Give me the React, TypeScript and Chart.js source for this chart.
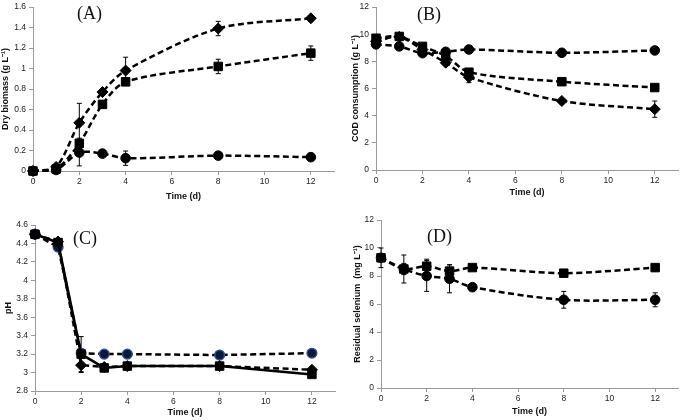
import React, { useEffect, useRef } from 'react';
import { Chart, registerables } from 'chart.js';

Chart.register(...registerables);

// Sampling days
const days = [0, 1, 2, 3, 4, 8, 12];
const xTicks = [0, 2, 4, 6, 8, 10, 12];

// (A) Dry biomass (g L-1)
const biomassDiamond = [0, 0.04, 0.47, 0.77, 0.98, 1.39, 1.49];
const biomassDiamondErr = [0, 0, 0.19, 0, 0.13, 0.07, 0.02];
const biomassSquare = [0, 0.02, 0.27, 0.65, 0.87, 1.02, 1.15];
const biomassSquareErr = [0, 0, 0.05, 0.03, 0.02, 0.07, 0.07];
const biomassCircle = [0, 0.01, 0.18, 0.17, 0.125, 0.15, 0.135];
const biomassCircleErr = [0, 0, 0.13, 0, 0.07, 0, 0];

// (B) COD consumption (g L-1)
const codCircle = [9.25, 9.1, 8.6, 8.7, 8.87, 8.63, 8.8];
const codCircleErr = [0, 0, 0, 0, 0, 0, 0];
const codSquare = [9.7, 9.83, 9.1, 8.4, 7.2, 6.5, 6.07];
const codSquareErr = [0, 0, 0, 0, 0.2, 0, 0];
const codDiamond = [9.47, 9.8, 8.87, 7.9, 6.83, 5.08, 4.48];
const codDiamondErr = [0, 0, 0, 0, 0.4, 0, 0.6];

// (C) pH
const phCircle = [4.5, 4.36, 3.21, 3.2, 3.2, 3.19, 3.21];
const phCircleErr = [0, 0, 0, 0, 0, 0, 0];
const phSquare = [4.5, 4.41, 3.2, 3.05, 3.07, 3.07, 2.98];
const phSquareErr = [0, 0.04, 0.19, 0, 0, 0, 0];
const phDiamond = [4.5, 4.42, 3.08, 3.06, 3.07, 3.07, 3.03];
const phDiamondErr = [0, 0, 0.08, 0, 0, 0, 0];

// (D) Residual selenium (mg L-1)
const seSquare = [9.3, 8.5, 8.7, 8.35, 8.6, 8.2, 8.6];
const seSquareErr = [0.7, 1.0, 0.5, 0.45, 0, 0, 0];
const seCircle = [9.3, 8.5, 8.0, 7.8, 7.2, 6.3, 6.3];
const seCircleErr = [0, 0.4, 1.1, 1.0, 0.25, 0.6, 0.5];

const SANS = "Arial, 'Liberation Sans', Helvetica, sans-serif";
const SERIF = "'Times New Roman', 'Liberation Serif', serif";

const errorBars = {
  id: 'errorBars',
  beforeDatasetsDraw(chart: any) {
    const { ctx } = chart;
    const ys = chart.scales.y;
    chart.data.datasets.forEach((ds: any, i: number) => {
      if (!ds.errors) return;
      const meta = chart.getDatasetMeta(i);
      ctx.save();
      ctx.strokeStyle = '#000';
      ctx.lineWidth = 1;
      meta.data.forEach((pt: any, j: number) => {
        const e = ds.errors[j];
        if (!e) return;
        const v = ds.data[j].y;
        const y1 = ys.getPixelForValue(v + e);
        const y2 = ys.getPixelForValue(v - e);
        const x = pt.x;
        ctx.beginPath();
        ctx.moveTo(x, y1);
        ctx.lineTo(x, y2);
        ctx.moveTo(x - 2.5, y1);
        ctx.lineTo(x + 2.5, y1);
        ctx.moveTo(x - 2.5, y2);
        ctx.lineTo(x + 2.5, y2);
        ctx.stroke();
      });
      ctx.restore();
    });
  },
};

type Series = {
  values: number[];
  errors: number[];
  marker: 'rectRot' | 'rect' | 'circle';
  dashed: boolean;
  fill?: string;
  border?: string;
};

type PanelProps = {
  left: number;
  top: number;
  width: number;
  height: number;
  yMin: number;
  yMax: number;
  yStep: number;
  yTitle: string;
  yAxisWidth: number;
  xAxisHeight: number;
  padTop: number;
  padRight: number;
  yTitlePad: number;
  xTitlePad: number;
  tension: number;
  series: Series[];
};

function radiusFor(m: string) {
  if (m === 'rect') return 6;
  if (m === 'rectRot') return 5.5;
  return 4.8;
}

function Panel(p: PanelProps) {
  const ref = useRef<HTMLCanvasElement | null>(null);
  useEffect(() => {
    if (!ref.current) return;
    const datasets = p.series.map((s) => ({
      data: days.map((d, i) => ({ x: d, y: s.values[i] })),
      errors: s.errors,
      showLine: true,
      borderColor: '#000',
      borderWidth: 2.5,
      borderDash: s.dashed ? [6, 3.5] : [],
      tension: p.tension,
      pointStyle: s.marker,
      pointRadius: radiusFor(s.marker),
      pointBackgroundColor: s.fill || '#000',
      pointBorderColor: s.border || '#000',
      pointBorderWidth: s.border ? 1.5 : 1,
      clip: false,
    }));
    const chart = new Chart(ref.current, {
      type: 'scatter',
      data: { datasets } as any,
      plugins: [errorBars],
      options: {
        animation: false,
        responsive: false,
        events: [],
        layout: { padding: { top: p.padTop, right: p.padRight, left: 0, bottom: 0 } },
        plugins: { legend: { display: false }, tooltip: { enabled: false } },
        scales: {
          x: {
            type: 'linear',
            min: 0,
            max: 13,
            afterBuildTicks: (scale: any) => {
              scale.ticks = xTicks.map((v) => ({ value: v }));
            },
            afterFit: (scale: any) => {
              scale.height = p.xAxisHeight;
              scale.paddingLeft = 0;
              scale.paddingRight = 0;
            },
            ticks: {
              stepSize: 2,
              color: '#222',
              padding: 2,
              maxRotation: 0,
              font: { family: SANS, size: 8.5 },
              callback: (v: any) => String(v),
            },
            grid: { display: true, drawOnChartArea: false, drawTicks: true, tickLength: 4, color: '#9a9a9a' },
            border: { display: true, color: '#9a9a9a', width: 1 },
            title: {
              display: true,
              text: 'Time (d)',
              color: '#111',
              font: { family: SANS, size: 9, weight: 'bold' },
              padding: { top: 0, bottom: p.xTitlePad },
            },
          },
          y: {
            type: 'linear',
            min: p.yMin,
            max: p.yMax,
            afterFit: (scale: any) => {
              scale.width = p.yAxisWidth;
              scale.paddingTop = 0;
              scale.paddingBottom = 0;
            },
            ticks: {
              stepSize: p.yStep,
              color: '#222',
              padding: 3,
              font: { family: SANS, size: 8.5 },
              callback: (v: any) => String(+Number(v).toFixed(2)),
            },
            grid: { display: true, drawOnChartArea: false, drawTicks: true, tickLength: 4, color: '#9a9a9a' },
            border: { display: true, color: '#9a9a9a', width: 1 },
            title: {
              display: true,
              text: p.yTitle,
              color: '#111',
              font: { family: SANS, size: 9, weight: 'bold' },
              padding: { top: p.yTitlePad, bottom: 0 },
            },
          },
        },
      } as any,
    });
    return () => chart.destroy();
  }, []);
  return (
    <canvas
      ref={ref}
      width={p.width}
      height={p.height}
      style={{ position: 'absolute', left: p.left, top: p.top, width: p.width, height: p.height }}
    />
  );
}

const labelStyle = (left: number, top: number): React.CSSProperties => ({
  position: 'absolute',
  left,
  top,
  fontFamily: SERIF,
  fontSize: 18,
  lineHeight: '18px',
  color: '#111',
  whiteSpace: 'nowrap',
});

export default function App() {
  return (
    <div style={{ position: 'fixed', left: 0, top: 0, width: 685, height: 420, background: '#fff', overflow: 'hidden' }}>
      <Panel
        left={0} top={0} width={342} height={210}
        yMin={0} yMax={1.6} yStep={0.2}
        yTitle="Dry biomass (g L⁻¹)"
        yAxisWidth={33} xAxisHeight={39} padTop={5} padRight={8}
        yTitlePad={0} xTitlePad={8} tension={0.3}
        series={[
          { values: biomassDiamond, errors: biomassDiamondErr, marker: 'rectRot', dashed: true },
          { values: biomassSquare, errors: biomassSquareErr, marker: 'rect', dashed: true },
          { values: biomassCircle, errors: biomassCircleErr, marker: 'circle', dashed: true },
        ]}
      />
      <Panel
        left={342} top={0} width={343} height={210}
        yMin={0} yMax={12} yStep={2}
        yTitle="COD consumption (g L⁻¹)"
        yAxisWidth={34} xAxisHeight={40} padTop={3} padRight={2}
        yTitlePad={8} xTitlePad={12} tension={0.3}
        series={[
          { values: codCircle, errors: codCircleErr, marker: 'circle', dashed: true },
          { values: codSquare, errors: codSquareErr, marker: 'rect', dashed: true },
          { values: codDiamond, errors: codDiamondErr, marker: 'rectRot', dashed: true },
        ]}
      />
      <Panel
        left={0} top={210} width={342} height={210}
        yMin={2.8} yMax={4.6} yStep={0.2}
        yTitle="pH"
        yAxisWidth={35} xAxisHeight={29} padTop={15} padRight={7}
        yTitlePad={3} xTitlePad={2} tension={0}
        series={[
          { values: phSquare, errors: phSquareErr, marker: 'rect', dashed: false },
          { values: phDiamond, errors: phDiamondErr, marker: 'rectRot', dashed: true },
          { values: phCircle, errors: phCircleErr, marker: 'circle', dashed: true, fill: '#0c1836', border: '#2a4c98' },
        ]}
      />
      <Panel
        left={342} top={210} width={343} height={210}
        yMin={0} yMax={12} yStep={2}
        yTitle="Residual selenium  (mg L⁻¹)"
        yAxisWidth={39} xAxisHeight={32} padTop={10} padRight={0}
        yTitlePad={10} xTitlePad={3} tension={0.3}
        series={[
          { values: seCircle, errors: seCircleErr, marker: 'circle', dashed: true },
          { values: seSquare, errors: seSquareErr, marker: 'rect', dashed: true },
        ]}
      />
      <div style={labelStyle(77, 4)}>(A)</div>
      <div style={labelStyle(417, 5)}>(B)</div>
      <div style={labelStyle(73, 229)}>(C)</div>
      <div style={labelStyle(427, 227)}>(D)</div>
    </div>
  );
}
